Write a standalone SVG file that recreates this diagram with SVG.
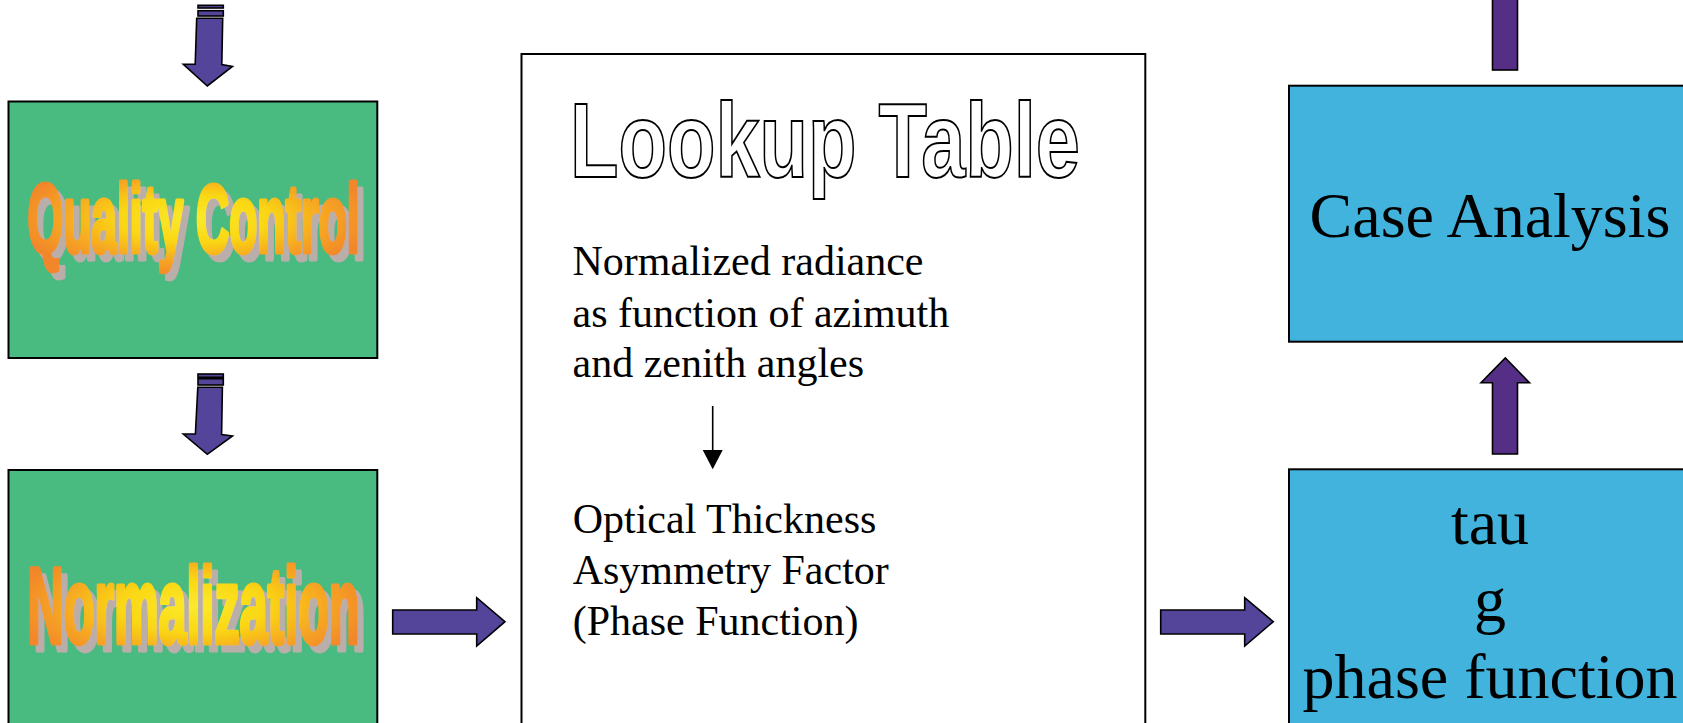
<svg xmlns="http://www.w3.org/2000/svg" width="1683" height="723" viewBox="0 0 1683 723">
  <style>
    .box { stroke: #000; stroke-width: 2; }
    .green { fill: #49BA80; }
    .blue { fill: #41B3DD; }
    .plain { fill: #fff; }
    .arrow { fill: #54449A; stroke: #000; stroke-width: 1.6; stroke-linejoin: miter; }
    .arrow2 { fill: #552F86; stroke: #000; stroke-width: 1.6; }
    .wa { font-family: "Liberation Sans Narrow", "Liberation Sans", Arial, sans-serif; font-weight: bold;
          fill: url(#flame); stroke: url(#flame); stroke-width: 5; stroke-linejoin: round; filter: url(#drop); }
    .outline { font-family: "Liberation Sans Narrow", "Liberation Sans", Arial, sans-serif; font-weight: bold; fill: #fff; stroke: #000; stroke-width: 2; }
    .serif { font-family: "Liberation Serif", "Times New Roman", serif; fill: #000; }
    .body { font-size: 42px; }
    .big { font-size: 64px; text-anchor: middle; }
  </style>
  <defs>
    <radialGradient id="flame" cx="0.5" cy="0.5" r="0.55">
      <stop offset="0" stop-color="#FBEA2E"/>
      <stop offset="0.4" stop-color="#FAD712"/>
      <stop offset="0.72" stop-color="#F6A623"/>
      <stop offset="1" stop-color="#F2862A"/>
    </radialGradient>
    <!-- grey drop shadow behind the flame lettering -->
    <filter id="drop" x="-5%" y="-10%" width="115%" height="135%">
      <feOffset in="SourceAlpha" dx="6" dy="7" result="off"/>
      <feFlood flood-color="#B9AEAA"/>
      <feComposite in2="off" operator="in" result="shadow"/>
      <feMerge>
        <feMergeNode in="shadow"/>
        <feMergeNode in="SourceGraphic"/>
      </feMerge>
    </filter>
  </defs>

  <!-- Quality Control stage -->
  <g id="quality-control">
    <rect class="box green" x="8.5" y="101.5" width="368.8" height="256.5"/>
    <text class="wa" x="27.5" y="252" font-size="96" textLength="332" lengthAdjust="spacingAndGlyphs">Quality Control</text>
  </g>

  <!-- Normalization stage -->
  <g id="normalization">
    <rect class="box green" x="8.5" y="470" width="368.8" height="270"/>
    <text class="wa" x="27.5" y="643" font-size="107" textLength="332" lengthAdjust="spacingAndGlyphs">Normalization</text>
  </g>

  <!-- Lookup table -->
  <g id="lookup-table">
    <rect class="box plain" x="521.5" y="54" width="623.8" height="690"/>
    <text class="outline" x="570" y="177" font-size="106" textLength="510" lengthAdjust="spacingAndGlyphs">Lookup Table</text>
    <text class="serif body" x="572.5" y="275">Normalized radiance</text>
    <text class="serif body" x="572.5" y="326.5">as function of azimuth</text>
    <text class="serif body" x="572.5" y="376.5">and zenith angles</text>
    <line x1="712.7" y1="406" x2="712.7" y2="452" stroke="#000" stroke-width="1.6"/>
    <polygon points="702.7,450 722.7,450 712.7,469.3" fill="#000"/>
    <text class="serif body" x="572.7" y="533.3">Optical Thickness</text>
    <text class="serif body" x="572.7" y="584">Asymmetry Factor</text>
    <text class="serif body" x="572.7" y="635">(Phase Function)</text>
  </g>

  <!-- Retrieved parameters -->
  <g id="parameters">
    <rect class="box blue" x="1289" y="469.3" width="404" height="280"/>
    <text class="serif big" x="1490" y="544">tau</text>
    <text class="serif big" x="1490" y="621">g</text>
    <text class="serif big" x="1490" y="698">phase function</text>
  </g>

  <!-- Case analysis -->
  <g id="case-analysis">
    <rect class="box blue" x="1289" y="85.7" width="404" height="256"/>
    <text class="serif big" x="1490" y="237">Case Analysis</text>
  </g>

  <!-- Block arrows between stages -->
  <g id="connectors">
    <!-- into Quality Control -->
    <rect class="arrow" x="198" y="5.3" width="25.3" height="2.7"/>
    <rect class="arrow" x="198" y="10.7" width="25.3" height="5.3"/>
    <polygon class="arrow" points="196.7,18.3 222.7,18.3 221.8,64.5 232.5,66.5 207.3,86 183.3,64.3 195.2,64.3"/>
    <!-- Quality Control to Normalization -->
    <rect class="arrow" x="198" y="374" width="25.3" height="3.3"/>
    <rect class="arrow" x="198" y="378.7" width="25.3" height="6.3"/>
    <polygon class="arrow" points="197.8,387.3 222.4,387.3 221.6,434.5 232.5,436 207.3,454.3 183.3,434 195.4,434"/>
    <!-- Normalization to Lookup Table -->
    <polygon class="arrow" points="392.7,610 476.7,610 476.7,597.7 505,621.7 476.7,646 476.7,634 392.7,634"/>
    <!-- Lookup Table to parameters -->
    <polygon class="arrow" points="1160.7,610 1244.7,610 1244.7,597.7 1273.3,621.7 1244.7,646 1244.7,634 1160.7,634"/>
    <!-- parameters to Case Analysis -->
    <polygon class="arrow2" points="1492.5,454 1492.5,382.7 1481,382.7 1505.3,358 1529.5,382.7 1517.5,382.7 1517.5,454"/>
    <!-- out of Case Analysis -->
    <rect class="arrow2" x="1492.5" y="-4" width="25" height="74"/>
  </g>
</svg>
